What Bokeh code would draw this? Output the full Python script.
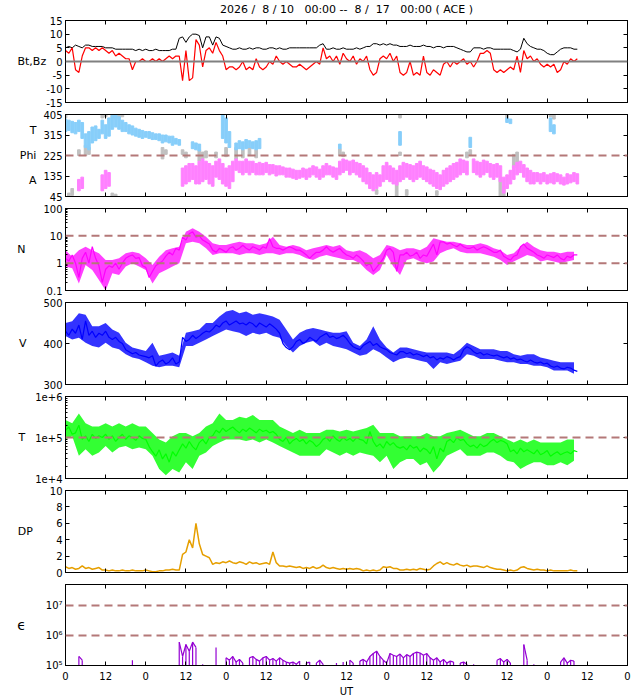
import numpy as np
from bokeh.plotting import figure
from bokeh.models import (Range1d, LinearAxis, LogAxis, FixedTicker, Span, Title,
                          CustomLabelingPolicy)
from bokeh.layouts import column
from bokeh.embed import file_html
from bokeh.resources import INLINE

# ---------------- data (hours since 2026-08-10 00:00 UT) ----------------
hours = list(range(154))          # hourly values
band_hours = list(range(0, 153, 2))  # 2-hourly spread (low/high) of noisy traces
x_ticks = list(range(0, 169, 12))
x_tick_labels = ["0" if h % 24 == 0 else "12" for h in x_ticks]

bt = [5, 5.5, 5, 6, 5.5, 5, 6, 6, 5.5, 5.5, 5.5, 5.5, 5, 5,
      5, 4.5, 4.5, 4.5, 4.5, 4.5, 4.5, 4, 4.5, 4, 4.5, 4, 4, 4.5, 4, 4, 4, 4, 4.5, 4.5,
      8.5, 9, 7, 9, 10, 10, 9.5, 5, 9, 9, 6, 9, 8.5,
      6, 5.5, 5, 4.5,
      4.5, 5, 4.5, 4.5, 5, 4.5, 5, 5, 4.5, 4.5, 5, 5, 4.5, 5, 4.5, 4.5, 5, 5, 5, 5,
      5, 5, 5, 5, 5, 6, 6.5,
      4.5, 4.5, 5, 4.5, 4.5, 5, 4.5, 4.5, 4.5, 5, 4.5, 5, 5.5, 5.5,
      6.5, 6.5, 6, 6.5, 6, 6.5, 6, 6,
      5.5, 5.5, 5.5, 6, 5.5, 5.5, 5.5, 6, 5.5, 5.5, 5, 5.5, 5.5, 5, 5.5, 5.5, 5.5, 5, 4.5, 4,
      3.5, 3.5, 5, 5,
      5, 4.5, 5, 5, 4.5, 4.5, 4.5, 4.5, 4.5, 4.5, 4,
      3.5, 4.5, 8.5,
      6.5, 5.5, 5, 4.5, 4.5,
      4, 3, 2.5, 2.5, 3.5,
      4.5, 5, 5, 5, 4.5, 4.5]

bz = [4, 3, 5,
      -3, -4, 2,
      5, 5, 4, 5, 4, 5, 4,
      3, 4, 2, 3, 2, 1,
      1, -3, 0, 0, 1, 0,
      0, 1, 0, 1, 0, 1, 2, 1, 2,
      2, -7, 4, -7, -6, 8, 6, -2, 4, 5, 3, 7, 4, 2, -3, -2,
      -2, -3, -2, 0, -3, -2, -3, 1, -2, -3, -2,
      0, -1, 2, 0, -1, 0,
      -1, -2, -2, -1, -2, -3, -2, -1, 0, -1,
      5,
      1, 2, 0, 2, -1, 3, 1, 0, 2, -1, 1, 0, 2,
      -3, -5, -4, 1,
      2, 1, 3, 0, 2,
      -4, -5, -4, 0, -5, -4, -5, 2, -4, -5, -3, -4, -5,
      -1, 0, -2, 0, -1, 0, 1, -1, 0, -2, 0,
      3, 3, 4, 3,
      -3, -4, -3, -4, -3, -2, -3,
      2, -4, 4,
      1, 2, 0, 1,
      -1, -2, -1, -2, -1,
      -4, -3,
      0, -1, 1, 0, 1]

# Phi angle: hourly spread (low, high) grouped by colour class
phi_t_hour = [0, 1, 2, 3, 4, 5, 6, 7, 8, 9, 10, 11, 12, 13, 14, 15, 16, 17, 18,
              19, 20, 21, 22, 23, 24, 25, 26, 27, 28, 29, 30, 31, 32, 33, 34,
              38, 39, 40, 47, 48, 49, 51, 52, 53, 54, 55, 56, 57, 58,
              82, 100, 121, 132, 133, 145, 146]
phi_t_lo = [330, 335, 325, 320, 330, 300, 260, 250, 280, 290, 300, 320, 300, 310, 340, 350, 340, 330, 330,
            320, 315, 310, 305, 300, 305, 300, 295, 295, 290, 280, 285, 280, 270, 275, 270,
            255, 250, 245, 300, 280, 260, 250, 255, 250, 255, 260, 255, 250, 255,
            255, 270, 260, 370, 365, 330, 320]
phi_t_hi = [385, 380, 375, 370, 380, 370, 320, 330, 350, 355, 340, 380, 360, 390, 400, 405, 395, 380, 370,
            360, 355, 345, 340, 335, 330, 330, 325, 320, 320, 315, 315, 310, 310, 300, 295,
            285, 280, 275, 405, 390, 330, 280, 290, 285, 295, 290, 285, 290, 300,
            275, 330, 305, 390, 385, 390, 360]

phi_a_hour = [4, 5, 11, 12, 13,
              35, 36, 37, 38, 39, 40, 41, 42, 43, 44, 45, 46, 47, 48, 49, 50,
              51, 52, 53, 54, 55, 56, 57, 58, 59, 60, 61, 62, 63, 64, 65, 66, 67, 68, 69, 70,
              71, 72, 73, 74, 75, 76, 77, 78, 79, 80, 81, 82, 83, 84, 85, 86, 87, 88, 89, 90,
              91, 92, 93, 94, 95, 96, 97, 98, 99, 100, 101, 102, 103, 104, 105, 106, 107, 108, 109, 110,
              111, 112, 113, 114, 115, 116, 117, 118, 119, 120, 122, 123, 124, 125, 126, 127, 128, 129, 130,
              131, 132, 133, 134, 135, 136, 137, 138, 139, 140, 141, 142, 143, 144, 145, 146, 147,
              148, 149, 150, 151, 152, 153]
phi_a_lo = [70, 80, 70, 80, 90,
            90, 100, 110, 120, 100, 100, 110, 120, 100, 90, 130, 120, 100, 90, 80, 110,
            160, 150, 140, 150, 140, 150, 140, 140, 140, 150, 140, 145, 135, 140, 140, 130, 130, 125, 120, 125,
            130, 120, 130, 140, 130, 120, 130, 140, 140, 130, 120, 140, 150, 160, 140, 150, 140, 130, 110, 100,
            80, 70, 80, 90, 110, 120, 110, 100, 95, 110, 120, 130, 120, 110, 120, 130, 120, 110, 100, 90,
            80, 75, 90, 100, 110, 120, 130, 140, 150, 140, 150, 140, 130, 140, 150, 130, 120, 130, 110,
            60, 80, 100, 120, 140, 150, 130, 110, 100, 100, 110, 100, 110, 100, 105, 100, 110,
            100, 95, 100, 105, 110, 100]
phi_a_hi = [120, 130, 140, 160, 150,
            170, 180, 190, 190, 180, 200, 210, 200, 190, 180, 200, 210, 190, 170, 180, 200,
            210, 200, 200, 210, 200, 200, 190, 195, 190, 195, 185, 185, 180, 180, 175, 170, 170, 165, 160, 160,
            170, 165, 170, 180, 175, 165, 180, 190, 180, 175, 170, 200, 210, 205, 200, 205, 195, 190, 180, 170,
            150, 140, 150, 140, 180, 195, 180, 170, 160, 180, 195, 190, 185, 180, 190, 200, 180, 175, 165, 160,
            150, 140, 160, 170, 180, 190, 195, 210, 205, 200, 210, 200, 195, 205, 200, 190, 185, 190, 180,
            130, 140, 160, 180, 195, 200, 185, 170, 160, 150, 150, 145, 150, 140, 145, 150, 145,
            140, 130, 145, 140, 150, 145]

phi_g_hour = [0, 1, 2, 4, 6, 7, 11, 12, 14, 15, 16, 17, 14, 15, 29, 30, 35, 36, 40, 41, 42,
              45, 48, 51, 53, 55, 57, 82, 83, 93, 99, 100, 100, 102, 111, 120, 121, 130, 131,
              132, 134, 135, 145, 146]
phi_g_lo = [390, 40, 50, 225, 225, 230, 390, 395, 390, 385, 390, 395, 45, 45, 210, 230, 230, 215, 200, 210, 215,
            215, 220, 210, 215, 225, 215, 225, 220, 55, 45, 390, 225, 50, 50, 215, 225, 45, 45,
            390, 170, 180, 395, 385]
phi_g_hi = [405, 60, 80, 250, 270, 260, 405, 405, 405, 405, 405, 405, 60, 55, 260, 250, 250, 240, 250, 240, 245,
            240, 260, 260, 250, 260, 250, 255, 240, 75, 110, 405, 240, 75, 70, 240, 250, 130, 90,
            405, 230, 240, 405, 405]

density = [1.5, 1.2, 2, 1,
           0.3, 1.5, 2.5, 1, 4, 1.5, 0.8,
           0.2, 0.6,
           0.8, 0.7, 1, 0.6, 1,
           1.5, 1.8, 2, 1.5, 1.6,
           0.8, 0.7,
           0.3, 0.5,
           0.8, 1, 1.2, 1.8, 2.5, 2, 3.5, 3,
           9, 7,
           12, 14, 9, 10,
           7, 6, 5,
           3, 2.5, 3.5, 3, 2.5,
           3.5, 4, 3, 3.5, 4.5, 3.5, 3, 4, 3.5, 3, 4, 3.5,
           8, 4,
           3.5, 3.5, 3, 3.5, 4, 3.5, 3, 3,
           2.5, 2, 1.5, 2, 2.5, 2.5,
           3, 4, 3, 2.5, 3, 3.5, 2.5,
           2, 1.8, 1.5, 2, 1.6,
           1.2, 0.8, 1, 0.5, 0.7, 1, 1.5,
           3, 3.5, 2.5, 0.5, 2,
           2, 2.5, 1.8, 2, 2.5, 1.5, 2, 1.8,
           3, 5, 2, 6,
           6, 5, 5.5, 4.5, 4, 5, 4, 3.5,
           3.5, 4, 3, 3.5, 4, 3.5, 3, 2.5, 2.5, 3,
           1.8, 1.5, 1.3, 1.8, 2,
           4, 5, 3.5, 3, 2.5,
           2, 1.8, 1.5, 2, 1.8, 1.6, 2, 1.5, 1.3, 1.8, 1.6, 2, 2]
density_lo = [0.75, 0.65, 0.18, 0.86, 0.56, 0.24, 0.1, 0.43, 0.37, 0.75, 0.99, 0.75, 0.56,
              0.18, 0.43, 0.56, 0.75, 0.99, 5.3, 6.1, 5.3, 3.5, 2.0, 2.3, 2.3, 2.3, 2.0, 2.3, 2.3,
              2.0, 2.3, 2.3, 2.0, 2.3, 2.3, 2.0, 1.5, 1.3,
              1.7, 2.0, 1.7, 1.5, 1.3, 1.3, 0.99, 0.56, 0.37, 0.56, 2.0, 0.75, 0.37, 1.3, 1.5, 1.14,
              0.99, 1.14, 2.3, 3.0, 3.5, 2.6, 2.3, 2.3, 2.3, 2.0, 1.7, 1.3, 0.86, 1.14, 1.5, 2.0,
              1.7, 1.14, 1.3, 1.14, 0.99, 1.14, 1.3]
density_hi = [3.0, 1.7, 3.0, 4.0, 3.0, 2.3, 1.3, 1.3, 1.5, 2.3, 2.6, 2.3, 1.5,
              0.86, 1.7, 3.0, 3.5, 4.0, 14, 19, 14, 9.3, 5.3, 4.6, 4.6, 5.3, 6.1, 5.3, 5.3,
              4.6, 5.3, 9.3, 4.6, 4.0, 4.6, 4.0, 3.0, 3.5,
              4.0, 4.6, 4.0, 4.6, 3.0, 2.6, 3.0, 2.3, 1.5, 2.0, 4.6, 4.0, 3.0, 3.5, 3.5, 3.0,
              4.0, 8.1, 7.0, 6.1, 6.1, 5.3, 4.6, 4.6, 5.3, 4.6, 3.5, 3.0, 2.0, 2.3, 4.0, 6.1,
              4.0, 3.0, 2.6, 2.6, 2.3, 2.6, 2.6]

speed = [430, 420, 435, 425,
         445, 410, 455,
         420, 430, 415, 425, 420, 430, 415,
         410, 415, 405, 400,
         385, 380, 375, 378, 372,
         370, 368, 365, 370,
         345, 355, 360, 350, 355, 365, 350, 355,
         415, 405, 410, 420, 412, 418,
         425, 430, 428, 435,
         445, 440, 450, 455, 445, 450, 455, 448,
         450, 445, 452, 448, 440, 450, 445, 440, 448, 442, 435,
         425, 400, 390, 385, 392,
         405, 410, 400, 405, 415, 410, 405, 415,
         420, 425, 415, 418, 412, 415, 420, 412,
         400, 392, 388, 385,
         395, 400, 405, 395, 400, 392, 388, 385,
         378, 375, 372, 380,
         380, 375, 378, 372, 375, 372, 368, 372,
         365, 368, 360, 365, 362, 368, 365, 360, 365, 368,
         385, 392, 388, 380,
         375, 378, 372, 375, 372, 370, 372, 368, 365, 368, 362, 365,
         360, 362, 358, 355, 360, 355, 352, 355, 350, 352,
         345, 342, 345, 340, 338, 342, 340, 335, 332]
speed_lo = [418, 410, 414, 402, 394, 390, 402, 390, 386, 374, 366, 362, 354,
            346, 342, 346, 346, 342, 394, 394, 402, 410, 418, 426, 434, 430, 426, 418, 426,
            422, 426, 418, 414, 394, 378, 394, 402, 406,
            394, 402, 394, 390, 386, 378, 370, 374, 386, 378, 366, 354, 362, 366, 362, 358,
            354, 338, 354, 350, 354, 358, 374, 370, 362, 362, 362, 358, 354, 354, 350, 350,
            346, 346, 342, 334, 334, 334, 326]
speed_hi = [450, 454, 474, 470, 442, 442, 450, 434, 426, 402, 390, 386, 382,
            402, 370, 374, 378, 370, 426, 430, 434, 450, 450, 466, 478, 482, 474, 478, 470,
            474, 470, 466, 458, 434, 410, 426, 434, 438,
            434, 430, 426, 426, 430, 402, 394, 410, 442, 410, 390, 378, 390, 390, 386, 382,
            378, 378, 378, 378, 374, 386, 402, 394, 386, 386, 386, 382, 382, 374, 370, 374,
            374, 366, 362, 358, 354, 354, 354]

temp_kK = [150, 180, 120, 130,
           200, 90, 110, 80, 120, 95, 110,
           100, 120, 90, 110, 80, 100, 120, 90, 110, 100, 85, 110, 95, 90,
           60, 45, 35, 50, 30, 40, 25, 45, 35, 50,
           70, 55, 80, 60, 50, 75, 90, 70, 100, 110,
           150, 130, 170, 140, 160, 180, 150, 130, 160, 140, 170, 150, 130, 160, 140, 150, 130, 140, 120,
           90, 80, 100, 70, 85, 95, 80, 90, 70, 85, 75, 60, 70,
           90, 100, 80, 110, 90, 80, 100, 85, 95, 80, 100, 90, 85, 70,
           140, 80, 60, 70, 55, 80, 65, 75, 60,
           55, 60, 50, 65, 55, 60, 45, 55, 50,
           40, 60, 30, 55, 45,
           80, 90, 75, 100, 85, 90, 70,
           60, 65, 55, 70, 60, 65,
           80, 90, 75, 85, 80, 70,
           45, 50, 40, 55, 45, 50,
           45, 40, 50, 38, 42, 48, 35, 40, 45, 38, 42, 45, 40, 48, 45]
temp_lo_kK = [89, 108, 36, 52, 36, 43, 62, 43, 57, 62, 52, 57, 52,
              36, 17, 12, 17, 14, 25, 17, 36, 43, 62, 75, 90, 90, 90, 82, 90, 75, 90, 75, 62, 52, 43,
              36, 36, 36,
              36, 52, 43, 36, 43, 36, 43, 39, 36, 25, 36, 17, 25, 30, 30, 21, 25, 14, 21, 36,
              43, 52, 36, 36, 36, 43, 43, 36, 27, 25, 17, 21, 25, 25, 21, 21, 25, 21, 27]
temp_hi_kK = [268, 224, 387, 224, 186, 186, 224, 186, 224, 186, 224, 186, 186,
              129, 90, 75, 108, 129, 129, 108, 129, 186, 224, 387, 268, 268, 322, 294, 353, 268,
              268, 268, 186, 155, 129, 155, 129, 129,
              129, 155, 155, 141, 155, 141, 155, 170, 204, 129, 129, 129, 108, 108, 108, 108,
              129, 108, 108, 129, 141, 155, 129, 108, 108, 129, 129, 108, 90, 75, 90, 75, 90,
              75, 75, 75, 75, 90, 90]

dyn_p = [0.7, 0.5, 0.6, 0.4, 0.5, 0.8, 0.5, 0.6, 0.4, 0.5, 0.6,
         0.3, 0.3, 0.2, 0.3, 0.2, 0.2, 0.3, 0.2, 0.2, 0.3, 0.2, 0.2, 0.2, 0.3, 0.2, 0.1, 0.1, 0.2, 0.2, 0.3, 0.3, 0.4, 0.3, 0.3,
         2.2, 2.5,
         4, 3, 6, 3.5,
         2.2, 2, 1.8,
         1.0, 1.2, 1.1, 1.3, 1.2, 1.4, 1.2, 1.1, 1.3, 1.2, 1.0, 1.3, 1.1, 1.2, 1.0, 1.1, 1.2, 1.0, 2.5, 1.2,
         0.8, 0.8, 0.7, 0.8, 0.7, 0.6, 0.7, 0.5, 0.6, 0.5, 0.7, 0.5, 0.6,
         0.9, 0.6, 0.5, 0.6, 0.5, 0.4, 0.5, 0.4, 0.5, 0.4, 0.5, 0.4,
         0.2, 0.3, 0.2, 0.3, 0.2, 0.3,
         0.7, 0.6, 0.7, 0.5, 0.5,
         0.3, 0.3, 0.4, 0.3, 0.4, 0.3, 0.5, 0.4, 0.3, 0.4, 0.8,
         1.1, 1.3, 1.0, 1.2, 1.0, 0.9, 1.1, 0.9, 0.8, 0.9, 0.7, 0.8,
         0.8, 0.7, 0.6, 0.8, 0.6, 0.5, 0.4, 0.4,
         0.3, 0.2, 0.3, 0.2, 0.3, 0.6, 0.7, 0.5,
         0.4, 0.3, 0.4, 0.3, 0.3, 0.2, 0.3, 0.2, 0.2, 0.2, 0.2, 0.2, 0.3, 0.2, 0.2]

# epsilon in units of 1e5 (None = below plotted range)
N = None
eps_e5 = [N, N, N, N,
          2, 1.5,
          N, N, N, N, N, N, N, N, N, N, N, N, N, N,
          1.5,
          N, N, N, N, N, N, N, N, N, N, N, N, N,
          6, 2, 5, 3, 6, 4,
          N, 1.1, N, N, N, 4, N, N,
          1.8, 1.5, 2, 1.3, 1.6, 1.2,
          N,
          1.8, 2, 1.6, 1.4, 1.8, 2, 1.5, 1.7, 1.4, 1.8, 1.5, 1.3,
          1.2, 1.3, 1.1, 1.4, N, 1.2, 1.3, N, 1.2, 1.5, 1.1,
          N, N, N,
          1.2, N, 1.3, N, 1.5, 1.2, N, 1.4, 1.6, 1.3,
          2, 2.5, 3, 2, 1.5, 1.2,
          2.5, 2.2, 2, 2.4, 1.8, 2.3, 2, 2.5, 2.8, 2.6, 2.2, 2.5, 1.8, 1.5, 1.8, 1.3, 1.6, 1.2, 1.4, 1.3, N, 1.2, 1.3, 1.1,
          N, 1.1,
          N, N, N, N, N, N,
          1.5, 1.7, 1.3, 1.6, 1.2,
          N, N, N,
          5, 1.5, N, 1.1,
          N, N, N, N, N, N, N,
          1.3, 1.8, 1.2, 1.5, 1.4,
          N]

NB = "\u00a0"
TITLE = ("2026 /" + NB + " 8 / 10 " + NB * 2 + "00:00 -- " + NB + "8 / " + NB + "17 "
         + NB * 2 + "00:00 ( ACE )")

# ---------------- layout ----------------
FONT = "DejaVu Sans"
W = 640
BL, BR = 65, 13
xr = Range1d(0, 168)
DASH_C = "#b47878"

NO_LABELS = CustomLabelingPolicy(code="""
for (const i of indices) { indices.unset(i) }
return indices
""")


def style(ax, ticks, labels=None, minor=None):
    ax.ticker = FixedTicker(ticks=ticks, minor_ticks=minor or [])
    ax.major_tick_in = 4
    ax.major_tick_out = 0
    ax.minor_tick_in = 2
    ax.minor_tick_out = 0
    ax.axis_line_color = "black"
    ax.major_tick_line_color = "black"
    ax.minor_tick_line_color = "black"
    if labels is None:
        ax.major_label_policy = NO_LABELS
        ax.major_label_text_font_size = "1px"
        ax.major_label_standoff = 0
    else:
        ax.major_label_overrides = {t: l for t, l in zip(ticks, labels)}
        ax.major_label_text_font = FONT
        ax.major_label_text_font_size = "10px"
        ax.major_label_text_color = "black"
        ax.major_label_standoff = 3


def make(height, y0, y1, yticks, ylabels, name, standoff, log=False, minor=None,
         top=6, bottom=6, xlabels=False, name_size="11px"):
    p = figure(width=W, height=height, x_range=xr, y_range=Range1d(y0, y1),
               y_axis_type="log" if log else "linear", title=None,
               output_backend="svg", toolbar_location=None,
               min_border_left=BL, min_border_right=BR,
               min_border_top=top, min_border_bottom=bottom)
    p.grid.visible = False
    p.outline_line_color = "black"
    p.background_fill_color = "white"
    p.border_fill_color = "white"
    xb = p.xaxis[0]
    yl = p.yaxis[0]
    style(xb, x_ticks, x_tick_labels if xlabels else None)
    style(yl, yticks, ylabels, minor)
    yl.axis_label = name
    yl.axis_label_orientation = "horizontal"
    yl.axis_label_text_font = FONT
    yl.axis_label_text_font_size = name_size
    yl.axis_label_text_font_style = "normal"
    yl.axis_label_text_color = "black"
    yl.axis_label_standoff = standoff
    Ax = LogAxis if log else LinearAxis
    top_ax = LinearAxis()
    style(top_ax, x_ticks)
    p.add_layout(top_ax, "above")
    right_ax = Ax()
    style(right_ax, yticks)
    p.add_layout(right_ax, "right")
    return p, xb, yl


def hline(p, y, color=DASH_C, dash="8 5", width=2):
    p.add_layout(Span(location=y, dimension="width", line_color=color,
                      line_dash=dash, line_width=width))


hrs = np.array(hours, dtype=float)
bh = np.array(band_hours, dtype=float)

# 1: Bt, Bz
p1, _, _ = make(108, -15, 15, [-15, -10, -5, 0, 5, 10, 15],
                ["-15", "-10", "-5", "0", "5", "10", "15"], "Bt,Bz", -3, top=19)
hline(p1, 0, color="#808080", dash="solid", width=2)
p1.line(hrs, bt, color="black", line_width=1)
p1.line(hrs, bz, color="#ff0000", line_width=1.2)
p1.add_layout(Title(text=TITLE, align="center", text_font=FONT, text_font_size="11px",
                    text_font_style="normal", text_color="black", standoff=1), "above")

# 2: Phi
p2, _, yl2 = make(94, 45, 405, [45, 135, 225, 315, 405],
                  ["45", "135", "225", "315", "405"], "T\nPhi\nA", 4)
yl2.axis_label_text_line_height = 1.9
p2.vbar(x=phi_g_hour, width=0.8, bottom=phi_g_lo, top=phi_g_hi, color="#c0c0c0")
p2.vbar(x=phi_t_hour, width=0.8, bottom=phi_t_lo, top=phi_t_hi, color="#87cefa")
p2.vbar(x=phi_a_hour, width=0.8, bottom=phi_a_lo, top=phi_a_hi, color="#ff80ff")
hline(p2, 225)

# 3: density
nminor = [k * 10.0 ** e for e in (-1, 0, 1) for k in range(2, 10)]
p3, _, _ = make(94, 0.1, 100, [0.1, 1, 10, 100], ["0.1", "1", "10", "100"], "N", 15,
                log=True, minor=nminor)
p3.varea(x=bh, y1=density_lo, y2=density_hi, color="#ff00ff", alpha=0.75)
p3.line(hrs, density, color="#ff00ff", line_width=1.2)
hline(p3, 10)
hline(p3, 1)

# 4: speed
p4, _, _ = make(94, 300, 500, [300, 400, 500], ["300", "400", "500"], "V", 14)
p4.varea(x=bh, y1=speed_lo, y2=speed_hi, color="#0000ff", alpha=0.8)
p4.line(hrs, speed, color="#0000ff", line_width=1.2)

# 5: temperature
tminor = [k * 10.0 ** e for e in (4, 5) for k in range(2, 10)]
p5, _, _ = make(94, 1e4, 1e6, [1e4, 1e5, 1e6], ["1e+4", "1e+5", "1e+6"], "T", 7,
                log=True, minor=tminor)
p5.varea(x=bh, y1=np.array(temp_lo_kK, dtype=float) * 1e3,
         y2=np.array(temp_hi_kK, dtype=float) * 1e3, color="#00ff00", alpha=0.8)
p5.line(hrs, np.array(temp_kK, dtype=float) * 1e3, color="#00ff00", line_width=1.2)
hline(p5, 1e5)

# 6: dynamic pressure
p6, _, _ = make(94, 0, 10, [0, 2, 4, 6, 8, 10], ["0", "2", "4", "6", "8", "10"], "DP", 14)
p6.line(hrs, dyn_p, color="#e69f00", line_width=1.5)

# 7: epsilon
p7, xb7, _ = make(121, 1e5, 5e7, [1e5, 1e6, 1e7], ["10\u2075", "10\u2076", "10\u2077"],
                  "\u03f5", 17, log=True, bottom=32, xlabels=True, name_size="14px")
eps = np.array([np.nan if v is None else v * 1e5 for v in eps_e5], dtype=float)
p7.line(hrs, eps, color="#9400d3", line_width=1.2)
ok = ~np.isnan(eps)
p7.segment(x0=hrs[ok], y0=np.full(ok.sum(), 1e5), x1=hrs[ok], y1=eps[ok],
           color="#9400d3", line_width=1.2)
hline(p7, 1e7)
hline(p7, 1e6)
xb7.major_label_standoff = 6
xb7.axis_label = "UT"
xb7.axis_label_text_font = FONT
xb7.axis_label_text_font_size = "10px"
xb7.axis_label_text_font_style = "normal"
xb7.axis_label_text_color = "black"
xb7.axis_label_standoff = 3

layout = column(p1, p2, p3, p4, p5, p6, p7, spacing=0)
open("out.html", "w").write(file_html(layout, INLINE))
